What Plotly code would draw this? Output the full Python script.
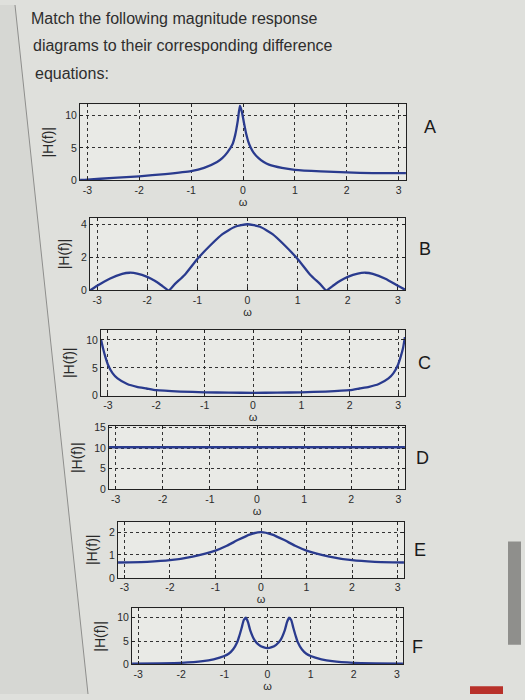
import plotly.graph_objects as go

# ---------------- data ----------------
letters = ["A", "B", "C", "D", "E", "F"]
title_lines = ["Match the following magnitude response",
               "diagrams to their corresponding difference",
               "equations:"]

w_A = [-3.14, -3.0, -2.5, -2.0, -1.5, -1.0, -0.75, -0.5, -0.4, -0.3, -0.2, -0.15, -0.1, -0.06,
       -0.02, 0.02, 0.06, 0.1, 0.15, 0.2, 0.3, 0.4, 0.5, 0.75, 1.0, 1.5, 2.0, 2.5, 3.0, 3.14]
h_A = [0.05, 0.1, 0.35, 0.6, 0.95, 1.4, 1.9, 2.8, 3.4, 4.3, 5.6, 7.0, 9.2, 11.5,
       10.5, 8.8, 7.2, 6.0, 5.0, 4.3, 3.4, 2.8, 2.4, 1.9, 1.6, 1.35, 1.2, 1.1, 1.1, 1.1]

w_B = [-3.14, -3.0, -2.75, -2.5, -2.35, -2.2, -2.0, -1.85, -1.7, -1.57, -1.45, -1.25, -1.0, -0.75, -0.5, -0.25, 0.0,
       0.25, 0.5, 0.75, 1.0, 1.25, 1.45, 1.57, 1.7, 1.85, 2.0, 2.2, 2.35, 2.5, 2.75, 3.0, 3.14]
h_B = [0.0, 0.28, 0.71, 1.0, 1.07, 1.02, 0.82, 0.58, 0.27, 0.0, 0.38, 0.95, 1.9, 2.7, 3.4, 3.85, 4.0,
       3.85, 3.4, 2.7, 1.9, 0.95, 0.38, 0.0, 0.27, 0.58, 0.82, 1.02, 1.07, 1.0, 0.71, 0.28, 0.05]

w_C = [-3.14, -3.1, -3.05, -3.0, -2.9, -2.8, -2.6, -2.4, -2.2, -2.0, -1.5, -1.0, -0.5, 0.0,
       0.5, 1.0, 1.5, 2.0, 2.2, 2.4, 2.6, 2.8, 2.9, 3.0, 3.05, 3.1, 3.14]
h_C = [10.0, 8.5, 6.9, 5.6, 4.0, 3.1, 2.1, 1.6, 1.3, 1.0, 0.75, 0.62, 0.55, 0.53,
       0.55, 0.62, 0.75, 1.0, 1.3, 1.6, 2.1, 3.1, 4.0, 5.6, 6.9, 8.5, 10.5]

w_D = [-3.14, 3.14]
h_D = [10.2, 10.2]

w_E = [-3.14, -2.5, -2.0, -1.5, -1.0, -0.75, -0.5, -0.25, 0.0, 0.25, 0.5, 0.75, 1.0, 1.5, 2.0, 2.5, 3.14]
h_E = [0.67, 0.70, 0.77, 0.93, 1.19, 1.40, 1.66, 1.89, 2.0, 1.89, 1.66, 1.40, 1.19, 0.93, 0.77, 0.70, 0.67]

w_F = [-3.14, -2.5, -2.0, -1.5, -1.25, -1.0, -0.9, -0.8, -0.7, -0.65, -0.6, -0.55, -0.5, -0.45, -0.4,
       -0.3, -0.2, -0.1, 0.0, 0.1, 0.2, 0.3, 0.4, 0.45, 0.5, 0.55, 0.6, 0.65, 0.7, 0.8, 0.9, 1.0,
       1.25, 1.5, 2.0, 2.5, 3.14]
h_F = [0.2, 0.25, 0.35, 0.7, 1.1, 1.8, 2.3, 3.2, 4.8, 6.2, 7.8, 9.5, 10.0, 9.0, 7.3,
       5.2, 4.2, 3.7, 3.5, 3.7, 4.2, 5.2, 7.3, 9.0, 10.0, 9.5, 7.8, 6.2, 4.8, 3.2, 2.3, 1.8,
       1.1, 0.7, 0.35, 0.25, 0.2]

x_ticks = [-3, -2, -1, 0, 1, 2, 3]
y_ticks = [[0, 5, 10], [0, 2, 4], [0, 5, 10], [0, 5, 10, 15], [0, 1, 2], [0, 5, 10]]
y_ranges = [[0, 11.7], [0, 4.4], [0, 11.8], [0, 15.3], [0, 2.45], [0, 12]]

series = [(w_A, h_A), (w_B, h_B), (w_C, h_C), (w_D, h_D), (w_E, h_E), (w_F, h_F)]

# ---------------- layout (pixel boxes) ----------------
W, H = 525, 700
boxes = [  # x0, x1, ytop, ybottom in px
    (80, 406, 101, 178),
    (90, 405, 216, 290),
    (101, 405, 330, 397),
    (109, 405, 428, 492),
    (118, 404, 525, 582),
    (132, 403, 613, 670),
]
letter_pos = [(430, 124), (425, 248), (424, 364), (422, 460), (420, 554), (417, 652)]
title_pos = [(29, 14), (31, 41), (33, 70)]

fig = go.Figure()
LINE = "#2a3b8e"
FONT = "Liberation Sans, Arial, sans-serif"

layout = dict(
    width=W, height=H,
    margin=dict(l=0, r=0, t=0, b=0),
    paper_bgcolor="#dfe0dc",
    plot_bgcolor="#e9eae6",
    showlegend=False,
    font=dict(family=FONT, color="#2a2a2a"),
)

annotations = []
for i, ((x, y), (x0, x1, yt, yb)) in enumerate(zip(series, boxes)):
    n = "" if i == 0 else str(i + 1)
    fig.add_trace(go.Scatter(x=x, y=y, mode="lines", xaxis="x" + n, yaxis="y" + n,
                             line=dict(color=LINE, width=2.3, shape="spline", smoothing=0.5),
                             hoverinfo="skip"))
    common = dict(showline=True, linecolor="#222", linewidth=1, mirror="ticks",
                  ticks="inside", ticklen=3, tickcolor="#222",
                  showgrid=True, gridcolor="#333", gridwidth=1, griddash="3px,3px",
                  zeroline=False, tickfont=dict(size=10.5, color="#2a2a2a"))
    layout["xaxis" + n] = dict(domain=[x0 / W, x1 / W], anchor="y" + n,
                               range=[-3.1416, 3.1416], tickvals=x_ticks,
                               ticktext=[str(t) for t in x_ticks],
                               title=dict(text="ω", font=dict(size=11), standoff=0),
                               **common)
    layout["yaxis" + n] = dict(domain=[1 - yb / H, 1 - yt / H], anchor="x" + n,
                               range=y_ranges[i], tickvals=y_ticks[i],
                               title=dict(text="|H(f)|", font=dict(size=14), standoff=8),
                               **common)
    lx, ly = letter_pos[i]
    annotations.append(dict(x=lx / W, y=1 - ly / H, xref="paper", yref="paper",
                            text=letters[i], showarrow=False,
                            font=dict(size=18, color="#1a1a1a", family=FONT),
                            xanchor="center", yanchor="middle"))

for txt, (tx, ty) in zip(title_lines, title_pos):
    annotations.append(dict(x=tx / W, y=1 - ty / H, xref="paper", yref="paper",
                            text=txt, showarrow=False, align="left",
                            xanchor="left", yanchor="middle",
                            font=dict(size=16, color="#2e2e2e", family=FONT)))
layout["annotations"] = annotations
layout["shapes"] = [
    dict(type="path", xref="paper", yref="paper", layer="below",
         path=f"M 0 1 L {15 / W} 1 L {88 / W} 0 L 0 0 Z",
         line=dict(width=0), fillcolor="#d6d7d3"),
    dict(type="line", xref="paper", yref="paper", x0=15 / W, y0=1, x1=88 / W, y1=0,
         line=dict(color="#8e8e8c", width=1)),
    dict(type="rect", xref="paper", yref="paper", x0=508 / W, y0=1 - 545 / H, x1=521 / W, y1=1 - 650 / H,
         line=dict(width=0), fillcolor="#8f8f8c"),
    dict(type="rect", xref="paper", yref="paper", x0=470 / W, y0=1 - 692 / H, x1=503 / W, y1=0,
         line=dict(width=0), fillcolor="#b8312a"),
]
fig.update_layout(**layout)
fig.write_html("out.html")
